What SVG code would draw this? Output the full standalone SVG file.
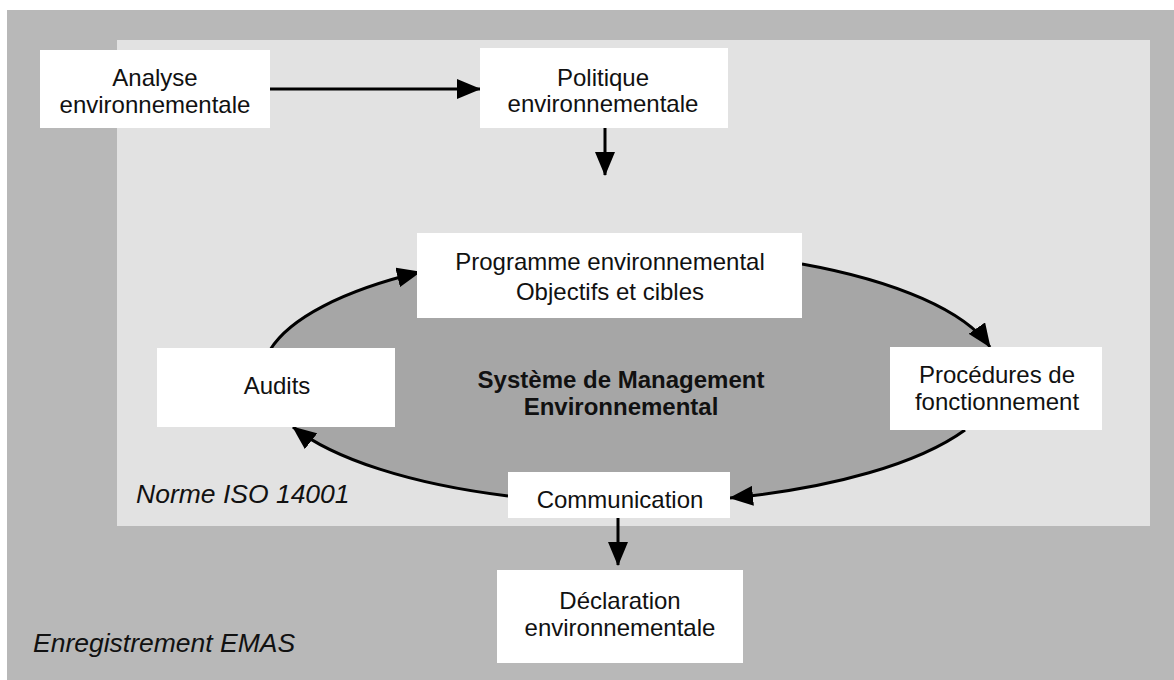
<svg xmlns="http://www.w3.org/2000/svg" width="1174" height="680" viewBox="0 0 1174 680">
  <style>
    .box { fill: #ffffff; stroke: none; }
    .t { font-family: "Liberation Sans", Arial, sans-serif; font-size: 24px; fill: #111; text-anchor: middle; }
    .it { font-family: "Liberation Sans", Arial, sans-serif; font-size: 26.5px; font-style: italic; fill: #111; }
    .bold { font-family: "Liberation Sans", Arial, sans-serif; font-size: 24px; font-weight: bold; fill: #111; text-anchor: middle; }
    .conn { fill: none; stroke: #000; stroke-width: 3; }
  </style>
  <defs>
    <marker id="ah" viewBox="0 0 24 20" refX="23" refY="10" markerWidth="24" markerHeight="20" markerUnits="userSpaceOnUse" orient="auto">
      <path d="M0,0 L24,10 L0,20 z" fill="#000"/>
    </marker>
  </defs>

  <rect x="0" y="0" width="1174" height="680" fill="#ffffff"/>
  <g id="emas-zone">
    <rect x="7" y="10" width="1167" height="670" fill="#b8b8b8"/>
    <text class="it" x="33" y="652">Enregistrement EMAS</text>
  </g>
  <g id="iso-zone">
    <rect x="117" y="40" width="1033" height="486" fill="#e2e2e2"/>
    <text class="it" x="136" y="503">Norme ISO 14001</text>
  </g>
  <g id="sme">
    <ellipse cx="631" cy="376" rx="369" ry="127" fill="#a6a6a6"/>
    <text class="bold" x="621" y="388">Système de Management</text>
    <text class="bold" x="621" y="415">Environnemental</text>
  </g>

  <g id="connectors">
    <path class="conn" d="M270,89 L480,89" marker-end="url(#ah)"/>
    <path class="conn" d="M605,128 L605,175" marker-end="url(#ah)"/>
    <path class="conn" d="M618,518 L618,565" marker-end="url(#ah)"/>
    <path class="conn" d="M270,350 A369,127 0 0 1 420,272" marker-end="url(#ah)"/>
    <path class="conn" d="M802,264 A369,127 0 0 1 990,347" marker-end="url(#ah)"/>
    <path class="conn" d="M965,430 A369,127 0 0 1 730,498" marker-end="url(#ah)"/>
    <path class="conn" d="M508,496 A369,127 0 0 1 293,427" marker-end="url(#ah)"/>
  </g>

  <g id="analyse">
    <rect class="box" x="40" y="50" width="230" height="78"/>
    <text class="t" x="155" y="86">Analyse</text>
    <text class="t" x="155" y="113">environnementale</text>
  </g>
  <g id="politique">
    <rect class="box" x="480" y="48" width="248" height="80"/>
    <text class="t" x="603" y="86">Politique</text>
    <text class="t" x="603" y="112">environnementale</text>
  </g>
  <g id="programme">
    <rect class="box" x="417" y="233" width="385" height="85"/>
    <text class="t" x="610" y="270">Programme environnemental</text>
    <text class="t" x="610" y="300">Objectifs et cibles</text>
  </g>
  <g id="audits">
    <rect class="box" x="157" y="348" width="238" height="79"/>
    <text class="t" x="277" y="394">Audits</text>
  </g>
  <g id="procedures">
    <rect class="box" x="890" y="347" width="212" height="83"/>
    <text class="t" x="997" y="383">Procédures de</text>
    <text class="t" x="997" y="410">fonctionnement</text>
  </g>
  <g id="communication">
    <rect class="box" x="508" y="472" width="222" height="46"/>
    <text class="t" x="620" y="508">Communication</text>
  </g>
  <g id="declaration">
    <rect class="box" x="497" y="570" width="246" height="93"/>
    <text class="t" x="620" y="609">Déclaration</text>
    <text class="t" x="620" y="636">environnementale</text>
  </g>
</svg>
